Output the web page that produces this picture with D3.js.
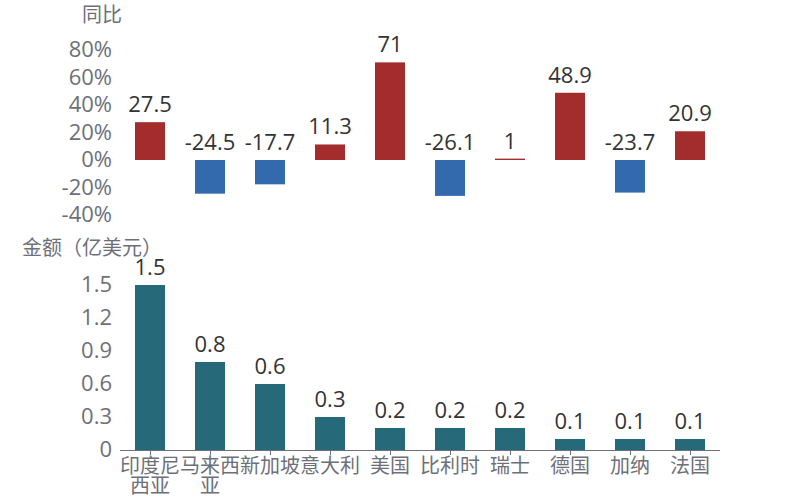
<!DOCTYPE html>
<html>
<head>
<meta charset="utf-8">
<script src="https://cdn.jsdelivr.net/npm/d3@7"></script>
<style>
  body { margin: 0; background: #fff; }
  svg { font-family: "Open Sans", "Noto Sans CJK SC", sans-serif; }
</style>
</head>
<body>
<svg id="chart" width="800" height="500"></svg>
<script>
const countries = ["印度尼西亚", "马来西亚", "新加坡", "意大利", "美国", "比利时", "瑞士", "德国", "加纳", "法国"];
const yoy = [27.5, -24.5, -17.7, 11.3, 71, -26.1, 1, 48.9, -23.7, 20.9];
const amount = [1.5, 0.8, 0.6, 0.3, 0.2, 0.2, 0.2, 0.1, 0.1, 0.1];
const yoyTicks = [-40, -20, 0, 20, 40, 60, 80];
const amountTicks = [0, 0.3, 0.6, 0.9, 1.2, 1.5];

const red = "#a32d2d", blue = "#336aae", teal = "#266a7a";
const axisCol = "#6e7079", labelCol = "#333";
const numSize = 22, cjkSize = 20;

const svg = d3.select("#chart");

const x = d3.scaleBand().domain(countries).range([120, 720])
  .paddingInner(0.5).paddingOuter(0.25);

// top: 同比
const yTop = d3.scaleLinear().domain([-40, 80]).range([215, 50]);

const gTop = svg.append("g");
gTop.append("text")
  .attr("x", 82).attr("y", 22)
  .attr("fill", axisCol).attr("font-size", cjkSize)
  .text("同比");

gTop.selectAll(".tick")
  .data(yoyTicks)
  .join("text")
  .attr("x", 112).attr("y", (d) => yTop(d))
  .attr("dy", "0.32em")
  .attr("text-anchor", "end")
  .attr("fill", axisCol).attr("font-size", numSize)
  .text((d) => d + "%");

gTop.selectAll("rect")
  .data(yoy)
  .join("rect")
  .attr("x", (d, i) => x(countries[i]))
  .attr("width", x.bandwidth())
  .attr("y", (d) => yTop(Math.max(0, d)))
  .attr("height", (d) => Math.abs(yTop(d) - yTop(0)))
  .attr("fill", (d) => (d >= 0 ? red : blue));

gTop.selectAll(".val")
  .data(yoy)
  .join("text")
  .attr("x", (d, i) => x(countries[i]) + x.bandwidth() / 2)
  .attr("y", (d) => yTop(Math.max(0, d)) - 10)
  .attr("text-anchor", "middle")
  .attr("fill", labelCol).attr("font-size", numSize)
  .text((d) => d);

// bottom: 金额
const yBot = d3.scaleLinear().domain([0, 1.5]).range([450, 285]);

const gBot = svg.append("g");
gBot.append("text")
  .attr("x", 22).attr("y", 255)
  .attr("fill", axisCol).attr("font-size", cjkSize)
  .text("金额（亿美元）");

gBot.selectAll(".tick")
  .data(amountTicks)
  .join("text")
  .attr("x", 112).attr("y", (d) => yBot(d))
  .attr("dy", "0.32em")
  .attr("text-anchor", "end")
  .attr("fill", axisCol).attr("font-size", numSize)
  .text((d) => d);

gBot.selectAll("rect")
  .data(amount)
  .join("rect")
  .attr("x", (d, i) => x(countries[i]))
  .attr("width", x.bandwidth())
  .attr("y", (d) => yBot(d))
  .attr("height", (d) => yBot(0) - yBot(d))
  .attr("fill", teal);

gBot.selectAll(".val")
  .data(amount)
  .join("text")
  .attr("x", (d, i) => x(countries[i]) + x.bandwidth() / 2)
  .attr("y", (d) => yBot(d) - 10)
  .attr("text-anchor", "middle")
  .attr("fill", labelCol).attr("font-size", numSize)
  .text((d) => d);

// x axis
gBot.append("line")
  .attr("x1", 120).attr("x2", 720)
  .attr("y1", yBot(0) + 0.5).attr("y2", yBot(0) + 0.5)
  .attr("stroke", axisCol);

gBot.selectAll(".tk")
  .data(countries)
  .join("line")
  .attr("x1", (d) => Math.round(x(d) + x.bandwidth() / 2) + 0.5)
  .attr("x2", (d) => Math.round(x(d) + x.bandwidth() / 2) + 0.5)
  .attr("y1", yBot(0)).attr("y2", yBot(0) + 5)
  .attr("stroke", axisCol);

// wrap category names to 3 chars per line (band is 60px)
gBot.selectAll(".cat")
  .data(countries)
  .join("text")
  .attr("text-anchor", "middle")
  .attr("fill", axisCol).attr("font-size", cjkSize)
  .each(function (d) {
    const lines = [];
    for (let i = 0; i < d.length; i += 3) lines.push(d.slice(i, i + 3));
    const cx = x(d) + x.bandwidth() / 2;
    d3.select(this).selectAll("tspan")
      .data(lines)
      .join("tspan")
      .attr("x", cx)
      .attr("y", (l, j) => 473 + j * 20)
      .text((l) => l);
  });
</script>
</body>
</html>
